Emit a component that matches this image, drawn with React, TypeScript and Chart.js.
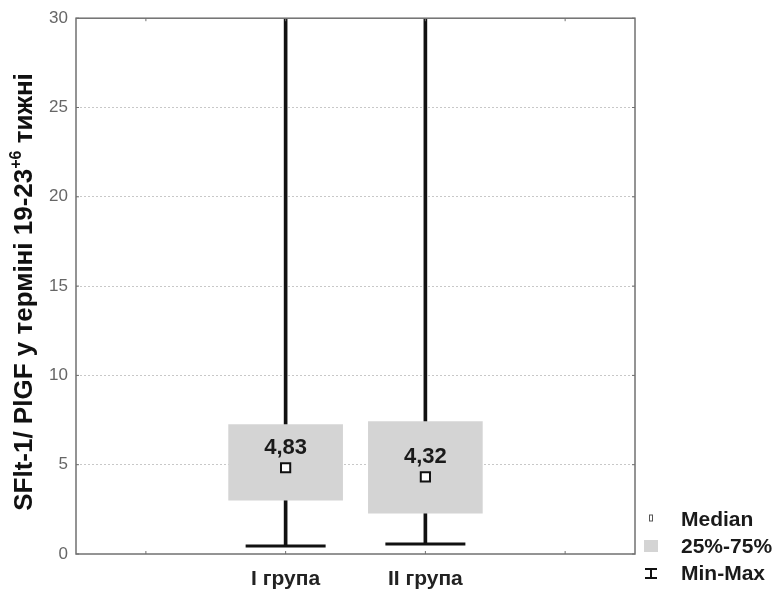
import { useEffect, useRef } from 'react';
import { Chart, registerables } from 'chart.js';

Chart.register(...registerables);

const FONT = '"Liberation Sans", Arial, Helvetica, sans-serif';

const categories = ['I група', 'II група'];
const positions = [1, 2];
const q1 = [3.01, 2.29];
const q3 = [7.25, 7.42];
const medians = [4.83, 4.32];
const medianLabels = ['4,83', '4,32'];
const mins = [0.45, 0.56];
const maxs = [30, 30];
const yTicks = [0, 5, 10, 15, 20, 25, 30];
const xTicks = [0, 1, 2, 3];
const legendLabels = ['Median', '25%-75%', 'Min-Max'];
const yTitleMain = 'SFlt-1/ PlGF у терміні 19-23';
const yTitleSup = '+6';
const yTitleEnd = ' тижні';

const decorPlugin = {
  id: 'decor',
  afterDatasetsDraw(chart: any) {
    const { ctx, chartArea, scales } = chart;
    const xs = scales.x;
    const ys = scales.y;
    // median labels
    ctx.save();
    ctx.font = `bold 22px ${FONT}`;
    ctx.fillStyle = '#1a1a1a';
    ctx.textAlign = 'center';
    ctx.textBaseline = 'middle';
    medianLabels.forEach((t, i) => {
      const x = xs.getPixelForValue(positions[i]);
      const y = ys.getPixelForValue(medians[i]) - 20;
      ctx.fillText(t, x, y);
    });
    ctx.restore();
    // frame
    ctx.save();
    ctx.strokeStyle = '#707070';
    ctx.lineWidth = 1.5;
    ctx.strokeRect(chartArea.left, chartArea.top, chartArea.right - chartArea.left, chartArea.bottom - chartArea.top);
    ctx.lineWidth = 1;
    xTicks.forEach((v) => {
      const x = xs.getPixelForValue(v);
      ctx.beginPath();
      ctx.moveTo(x, chartArea.bottom);
      ctx.lineTo(x, chartArea.bottom - 3);
      ctx.moveTo(x, chartArea.top);
      ctx.lineTo(x, chartArea.top + 3);
      ctx.stroke();
    });
    yTicks.forEach((v) => {
      const y = ys.getPixelForValue(v);
      ctx.beginPath();
      ctx.moveTo(chartArea.left, y);
      ctx.lineTo(chartArea.left + 3, y);
      ctx.moveTo(chartArea.right, y);
      ctx.lineTo(chartArea.right - 3, y);
      ctx.stroke();
    });
    ctx.restore();
  },
  afterDraw(chart: any) {
    const { ctx, chartArea } = chart;
    // y title with superscript
    ctx.save();
    ctx.translate(32, 292);
    ctx.rotate(-Math.PI / 2);
    ctx.fillStyle = '#111';
    ctx.textBaseline = 'alphabetic';
    ctx.textAlign = 'left';
    const mainFont = `bold 26px ${FONT}`;
    const supFont = `bold 16px ${FONT}`;
    ctx.font = mainFont;
    const w1 = ctx.measureText(yTitleMain).width;
    const w3 = ctx.measureText(yTitleEnd).width;
    ctx.font = supFont;
    const w2 = ctx.measureText(yTitleSup).width;
    let x = -(w1 + w2 + w3) / 2;
    ctx.font = mainFont;
    ctx.fillText(yTitleMain, x, 0);
    x += w1;
    ctx.font = supFont;
    ctx.fillText(yTitleSup, x, -11);
    x += w2;
    ctx.font = mainFont;
    ctx.fillText(yTitleEnd, x, 0);
    ctx.restore();

    // legend
    ctx.save();
    const lx = chartArea.right + 46;
    const rows = [520, 547, 574];
    ctx.font = `bold 21px ${FONT}`;
    ctx.fillStyle = '#1a1a1a';
    ctx.textBaseline = 'middle';
    ctx.textAlign = 'left';
    legendLabels.forEach((t, i) => ctx.fillText(t, lx, rows[i]));
    const sx = chartArea.right + 16;
    // median symbol
    ctx.fillStyle = '#fff';
    ctx.strokeStyle = '#555';
    ctx.lineWidth = 1;
    ctx.fillRect(sx - 1.5, rows[0] - 5, 3, 6);
    ctx.strokeRect(sx - 1.5, rows[0] - 5, 3, 6);
    // box symbol
    ctx.fillStyle = '#d4d4d4';
    ctx.fillRect(sx - 7, rows[1] - 7, 14, 12);
    // min-max symbol
    ctx.strokeStyle = '#111';
    ctx.lineWidth = 2;
    ctx.beginPath();
    ctx.moveTo(sx - 6, rows[2] - 5);
    ctx.lineTo(sx + 6, rows[2] - 5);
    ctx.moveTo(sx - 6, rows[2] + 4);
    ctx.lineTo(sx + 6, rows[2] + 4);
    ctx.moveTo(sx, rows[2] - 5);
    ctx.lineTo(sx, rows[2] + 4);
    ctx.stroke();
    ctx.restore();
  },
};

export default function App() {
  const ref = useRef<HTMLCanvasElement | null>(null);
  useEffect(() => {
    if (!ref.current) return;
    const chart = new Chart(ref.current, {
      type: 'bar',
      data: {
        datasets: [
          {
            type: 'bar',
            label: 'Min-Max',
            data: positions.map((x, i) => ({ x, y: [mins[i], maxs[i]] })) as any,
            backgroundColor: '#111',
            barThickness: 3,
            grouped: false,
            order: 4,
          } as any,
          {
            type: 'bar',
            label: '25%-75%',
            data: positions.map((x, i) => ({ x, y: [q1[i], q3[i]] })) as any,
            backgroundColor: '#d4d4d4',
            barThickness: 114,
            grouped: false,
            order: 3,
          } as any,
          {
            type: 'scatter',
            label: 'caps',
            data: positions.map((x, i) => ({ x, y: mins[i] })),
            pointStyle: 'line',
            pointRadius: 40,
            borderWidth: 3,
            borderColor: '#111',
            order: 2,
          } as any,
          {
            type: 'scatter',
            label: 'Median',
            data: positions.map((x, i) => ({ x, y: medians[i] })),
            pointStyle: 'rect',
            pointRadius: 6.5,
            borderWidth: 2,
            borderColor: '#111',
            backgroundColor: '#fff',
            order: 1,
          } as any,
        ],
      },
      options: {
        responsive: false,
        animation: false,
        events: [],
        layout: { autoPadding: false, padding: { left: 0, right: 142, top: 16, bottom: 0 } },
        plugins: { legend: { display: false }, tooltip: { enabled: false } },
        scales: {
          x: {
            type: 'linear',
            min: -0.5,
            max: 3.5,
            offset: false,
            afterBuildTicks: (s: any) => {
              s.ticks = xTicks.map((v) => ({ value: v }));
            },
            afterFit: (s: any) => {
              s.height = 38;
            },
            grid: { display: false, drawTicks: false },
            border: { display: false },
            ticks: {
              padding: 13,
              color: '#222',
              font: { family: FONT, size: 21, weight: 'bold' },
              callback: (v: any) => {
                const idx = positions.indexOf(Number(v));
                return idx >= 0 ? categories[idx] : '';
              },
            },
          },
          y: {
            type: 'linear',
            min: 0,
            max: 30,
            afterBuildTicks: (s: any) => {
              s.ticks = yTicks.map((v) => ({ value: v }));
            },
            afterFit: (s: any) => {
              s.width = 76;
            },
            border: { display: false, dash: [2, 2] },
            grid: {
              drawTicks: false,
              color: (c: any) => (c.tick && (c.tick.value === 0 || c.tick.value === 30) ? 'rgba(0,0,0,0)' : '#c8c8c8'),
              lineWidth: 1,
            },
            ticks: {
              padding: 8,
              color: '#666',
              font: { family: FONT, size: 17 },
            },
          },
        },
      } as any,
      plugins: [decorPlugin],
    });
    return () => chart.destroy();
  }, []);
  return (
    <div style={{ position: 'fixed', left: 0, top: 0, width: 777, height: 592, background: '#fff' }}>
      <canvas ref={ref} width={777} height={592} style={{ width: 777, height: 592 }} />
    </div>
  );
}
